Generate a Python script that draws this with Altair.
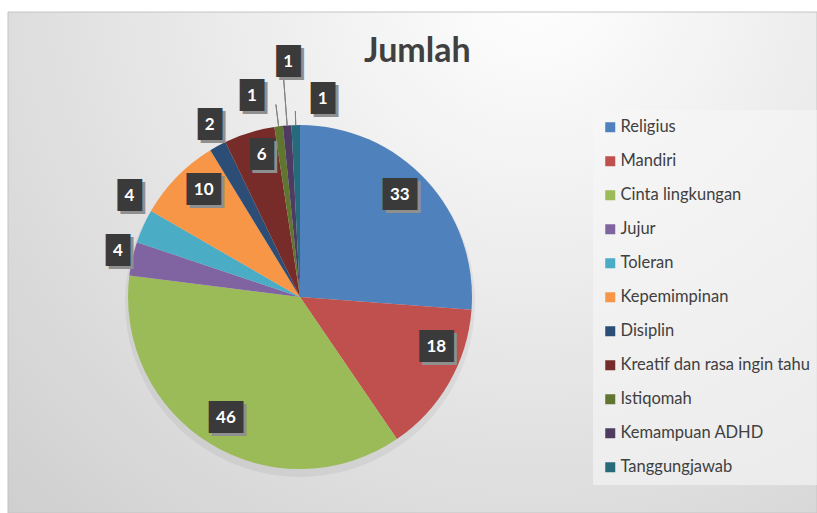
import altair as alt
import pandas as pd

# ---- data ----
categories = ["Religius", "Mandiri", "Cinta lingkungan", "Jujur", "Toleran",
              "Kepemimpinan", "Disiplin", "Kreatif dan rasa ingin tahu",
              "Istiqomah", "Kemampuan ADHD", "Tanggungjawab"]
values = [33, 18, 46, 4, 4, 10, 2, 6, 1, 1, 1]

# ---- styles / layout ----
colors = ["#4F81BD", "#C0504D", "#9BBB59", "#8064A2", "#4BACC6", "#F79646",
          "#2C4D75", "#772C2A", "#5F7530", "#4D3B62", "#276A7C"]
label_radius = [143, 145, 142, 188, 198, 144, 194, 147, 207, 235, 199]
label_nudge = [-1.0, -3.5, 0, 0.5, 2.2, 1.3, 0.3, 0.7, -2.2, 0.5, 2.8]
leader = [0, 0, 0, 0, 0, 0, 0, 0, 1, 1, 1]

W, H = 817, 513
CX, CY, R = 300, 297, 172
BOX_FS = 27
TOTAL = sum(values)

df = pd.DataFrame({
    "category": categories,
    "value": values,
    "order": list(range(len(categories))),
    "lr": label_radius,
    "nudge": label_nudge,
    "leader": leader,
})

theta_scale = alt.Scale(domain=[0, TOTAL])

# background panel
bg = alt.Chart(pd.DataFrame({"a": [0]})).mark_rect(
    fill=alt.RadialGradient(
        gradient="radial",
        stops=[alt.GradientStop(color="#ffffff", offset=0),
               alt.GradientStop(color="#c6c6c6", offset=1)],
        x1=0.65, y1=0.15, r1=0, x2=0.65, y2=0.15, r2=1.1,
    ),
    stroke="#c4c4c4", strokeWidth=1,
).encode(x=alt.value(8), x2=alt.value(W), y=alt.value(12), y2=alt.value(H))

# pie shadow
shadow = alt.Chart(df).mark_arc(radius=R + 3, color="#000000", opacity=0.05).encode(
    theta=alt.Theta("value:Q", stack=True, scale=theta_scale),
    order=alt.Order("order:Q", sort="ascending"),
    x=alt.value(CX), y=alt.value(CY + 5),
)

pie = alt.Chart(df).mark_arc(radius=R).encode(
    theta=alt.Theta("value:Q", stack=True, scale=theta_scale),
    color=alt.Color(
        "category:N",
        scale=alt.Scale(domain=categories, range=colors),
        sort=categories,
        legend=alt.Legend(
            orient="none", legendX=593, legendY=110, title=None,
            symbolType="square", symbolSize=100, symbolStrokeWidth=0,
            labelFont="Lato", labelFontSize=16.5, labelColor="#404040",
            labelOffset=2, rowPadding=17, padding=9,
            fillColor="rgba(246,246,246,0.6)", labelLimit=300,
        ),
    ),
    order=alt.Order("order:Q", sort="ascending"),
    x=alt.value(CX), y=alt.value(CY),
)

lab_base = alt.Chart(df).transform_window(
    cum="sum(value)", sort=[alt.SortField("order", order="ascending")], frame=[None, 0]
).transform_calculate(
    mid="datum.cum - datum.value / 2",
    lt="datum.cum - datum.value / 2 + datum.nudge",
    le="datum.lr - 13",
)

pos = dict(
    theta=alt.Theta("lt:Q", stack=False, scale=theta_scale),
    radius=alt.Radius("lr:Q", scale=None),
    x=alt.value(CX), y=alt.value(CY),
)

leaders = lab_base.transform_filter("datum.leader == 1").mark_arc(
    fillOpacity=0, stroke="#7f7f7f", strokeWidth=1
).encode(
    theta=alt.Theta("mid:Q", stack=False, scale=theta_scale),
    theta2=alt.Theta2("mid:Q"),
    radius=alt.Radius("le:Q", scale=None),
    radius2=alt.value(R),
    x=alt.value(CX), y=alt.value(CY),
)


def blocks(dx, dy, color, wide_only=False):
    ch = lab_base.transform_filter("datum.value >= 10") if wide_only else lab_base
    return ch.mark_text(
        text="█", font="DejaVu Sans Mono", fontSize=BOX_FS, color=color,
        dx=dx, dy=dy, align="center", baseline="middle",
    ).encode(**pos)


layers = [bg, shadow, pie, leaders]
for color, ox, oy in [("#8f8f8f", 3, 3), ("#3a3a3a", 0, 0)]:
    for d in (-4, 0, 4):
        layers.append(blocks(d + ox, oy, color))
    for d in (-9, 9):
        layers.append(blocks(d + ox, oy, color, wide_only=True))

labels = lab_base.mark_text(
    font="Lato", fontSize=17, fontWeight="bold", color="#ffffff",
    align="center", baseline="middle",
).encode(text=alt.Text("value:Q"), **pos)
layers.append(labels)

chart = alt.layer(*layers).properties(
    width=W, height=H, autosize="none", padding=0, background="#ffffff",
    title=alt.TitleParams(
        "Jumlah", font="Lato", fontSize=34, fontWeight="bold", color="#404040",
        anchor="start", dx=364, offset=-69, baseline="top",
    ),
).configure_view(strokeWidth=0)

chart.save("out.html", embed_options={"renderer": "svg", "actions": False})
